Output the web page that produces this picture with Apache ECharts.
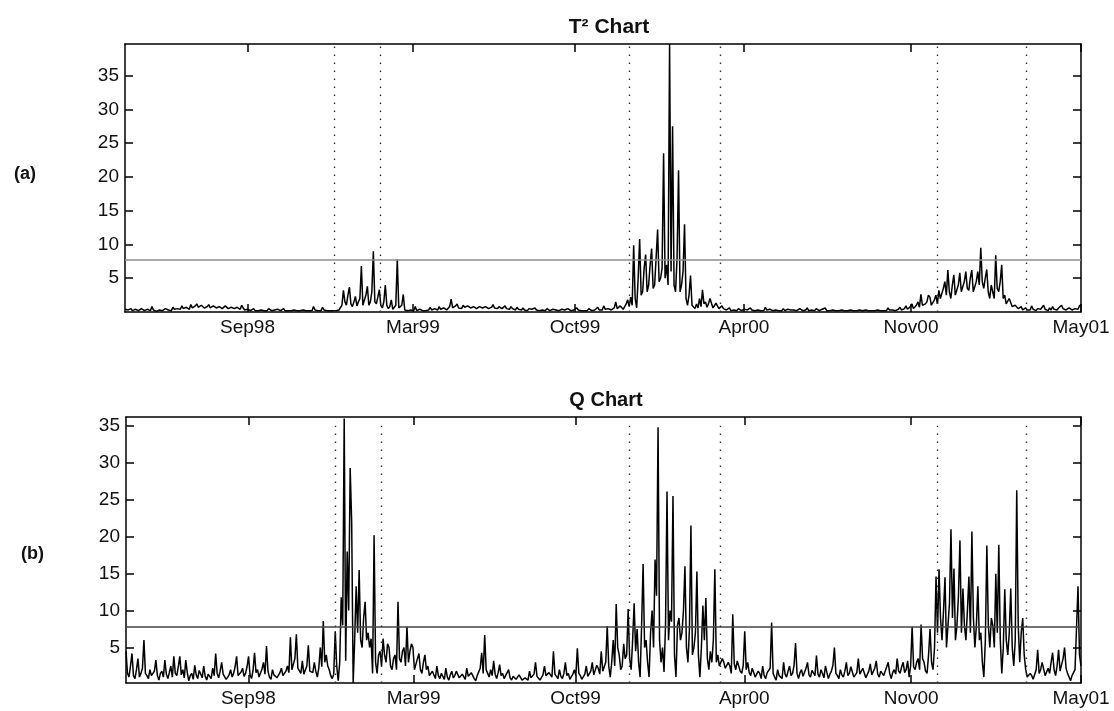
<!DOCTYPE html>
<html>
<head>
<meta charset="utf-8">
<script src="https://cdn.jsdelivr.net/npm/echarts@6/dist/echarts.min.js"></script>
<style>
html,body{margin:0;padding:0;background:#fff;}
#chart{width:1114px;height:711px;}
</style>
</head>
<body>
<div id="chart"></div>
<script>
// x tick labels and the sample index where each falls
const tickLabels = ['Sep98','Mar99','Oct99','Apr00','Nov00','May01'];
const tickIndex = [81.9, 192.5, 300.8, 413.7, 525.4, 639];
// event boundaries (dotted lines), sample index
const eventBounds = [140, 170.7, 336.9, 397.7, 542.8, 602.3];
const yTicks = [5, 10, 15, 20, 25, 30, 35];
const t2Limit = 7.7;
const qLimit = 7.8;

const t2Values = [
0.4,0.2,0.3,0.5,0.5,0.2,0.2,0.4,0.4,0.2, 0.3,0.5,0.5,0.2,0.3,0.4,0.4,0.2,0.8,0.3,
0.3,0.1,0.2,0.3,0.4,0.2,0.3,0.5,0.5,0.3, 0.4,0.2,0.7,0.4,0.3,0.5,0.6,0.4,0.9,0.5,
0.5,0.7,0.8,0.4,1.1,0.6,0.6,0.9,1.2,0.7, 0.8,1.0,1.0,0.6,0.5,0.8,1.1,0.6,0.7,0.9,
0.9,0.6,0.5,0.8,0.8,0.5,0.6,0.9,0.9,0.5, 0.4,0.7,0.8,0.5,0.5,0.7,0.7,0.4,1.0,0.6,
0.3,0.2,0.4,0.3,0.2,0.3,0.5,0.2,0.3,0.2, 0.2,0.3,0.4,0.2,0.3,0.2,0.5,0.3,0.2,0.2,
0.3,0.2,0.4,0.2,0.2,0.3,0.5,0.2,0.3,0.2, 0.2,0.2,0.2,0.3,0.3,0.2,0.2,0.2,0.2,0.3,
0.3,0.2,0.2,0.2,0.3,0.2,0.8,0.3,0.2,0.2, 0.4,0.2,0.7,0.3,0.3,0.2,0.2,0.2,0.4,0.2,
0.3,0.2,0.2,0.3,0.5,1.0,3.2,1.5,1.0,2.5, 3.7,1.2,0.8,1.5,2.3,0.9,1.5,2.0,6.8,1.0,
1.2,2.5,3.8,1.0,1.5,3.0,9.0,1.5,1.2,2.2, 3.3,1.0,0.6,1.5,4.0,1.0,0.5,0.8,1.8,0.4,
0.3,1.0,7.8,0.6,0.4,1.0,2.6,0.3,0.3,0.2, 0.2,0.3,0.3,0.2,0.8,0.2,0.2,0.4,0.5,0.2,
0.3,0.2,0.4,0.3,0.7,0.3,0.3,0.5,0.5,0.3, 0.8,0.4,0.4,0.6,0.6,0.3,0.3,0.8,1.9,0.6,
0.5,0.9,1.2,0.6,0.7,0.5,1.0,0.7,0.6,0.9, 1.1,0.6,0.5,0.8,0.9,0.5,0.7,0.8,1.0,0.6,
0.6,0.8,0.9,0.5,0.5,0.7,1.1,0.6,0.7,0.5, 0.8,0.6,0.5,0.7,0.9,0.5,0.6,0.4,0.8,0.5,
0.5,0.3,0.7,0.4,0.4,0.3,0.6,0.3,0.3,0.2, 0.5,0.3,0.4,0.2,0.6,0.3,0.3,0.2,0.4,0.3,
0.3,0.2,0.5,0.3,0.2,0.2,0.4,0.2,0.3,0.2, 0.2,0.3,0.4,0.2,0.3,0.2,0.5,0.3,0.2,0.2,
0.3,0.2,0.6,0.3,0.2,0.2,0.4,0.2,0.3,0.2, 0.5,0.3,0.2,0.3,0.3,0.2,0.7,0.3,0.4,0.3,
0.9,0.4,0.3,0.5,0.5,0.3,0.4,0.6,1.5,0.5, 0.6,0.9,1.0,0.4,0.5,1.2,1.8,0.8,2.2,1.0,
9.9,2.0,0.6,5.0,10.8,2.5,3.0,6.5,8.5,3.0, 4.0,7.0,9.4,3.5,4.0,8.0,12.2,4.5,5.0,6.5,
23.5,5.0,7.0,4.0,39.7,6.0,27.5,4.0,3.0,8.0, 21.0,3.0,4.0,6.0,13.0,2.0,1.0,2.5,5.4,1.0,
0.8,0.5,1.2,0.6,2.0,0.8,3.3,1.2,1.5,0.7, 1.2,2.0,1.8,0.6,0.8,1.3,1.2,0.5,0.6,0.9,
0.5,0.3,0.3,0.5,0.6,0.2,0.4,0.3,0.3,0.2, 0.5,0.3,0.2,0.3,0.4,0.2,0.3,0.5,0.6,0.3,
0.3,0.2,0.2,0.3,0.4,0.2,0.3,0.2,0.7,0.3, 0.3,0.4,0.5,0.2,0.2,0.3,0.4,0.2,0.3,0.2,
0.5,0.2,0.3,0.4,0.6,0.3,0.2,0.3,0.4,0.2, 0.3,0.5,0.5,0.2,0.3,0.3,0.6,0.2,0.4,0.3,
0.3,0.2,0.5,0.3,0.2,0.2,0.4,0.3,0.6,0.2, 0.3,0.2,0.2,0.3,0.4,0.2,0.3,0.2,0.2,0.3,
0.4,0.2,0.3,0.2,0.2,0.3,0.5,0.2,0.3,0.2, 0.2,0.3,0.3,0.2,0.2,0.3,0.4,0.2,0.2,0.2,
0.3,0.2,0.2,0.3,0.2,0.2,0.4,0.2,0.3,0.2, 0.6,0.3,0.2,0.3,0.4,0.2,0.3,0.4,0.7,0.3,
0.3,0.5,0.9,0.4,0.5,0.8,1.2,0.5,0.6,1.0, 1.5,0.7,2.6,1.0,0.8,1.2,1.5,2.5,2.2,1.0,
1.0,1.8,2.5,1.2,3.2,2.0,1.8,3.5,4.5,2.5, 6.2,3.0,2.0,4.0,5.5,2.5,2.3,4.0,5.8,3.0,
3.0,4.5,6.0,3.5,3.2,5.0,6.2,3.0,3.0,4.5, 6.0,4.0,9.5,4.5,3.5,5.0,6.3,3.0,2.0,4.0,
4.0,2.0,8.4,3.5,3.0,4.5,7.0,2.0,2.5,1.2, 1.0,2.0,2.0,0.8,0.6,1.0,1.2,0.5,0.4,0.8,
0.3,0.2,0.6,0.3,0.4,0.3,0.9,0.4,0.3,0.2, 0.5,0.3,0.4,0.6,1.0,0.4,0.3,0.2,0.6,0.3,
0.8,0.4,0.4,0.3,0.6,0.4,1.0,0.5,0.5,0.3, 0.4,0.6,0.7,0.3,0.3,0.5,0.5,0.4,0.9,1.1
];

const qValues = [
4.5,1.5,1.0,2.5,4.2,1.2,0.8,2.0,3.5,1.0, 1.5,2.2,6.0,1.5,1.2,0.8,2.0,1.2,1.0,1.8,
3.3,1.2,0.6,1.5,1.8,1.0,3.3,1.4,0.8,1.6, 2.5,1.0,3.8,1.5,1.2,2.4,3.8,1.3,2.0,0.9,
3.3,1.6,0.5,1.2,1.5,0.7,2.6,1.3,0.8,1.9, 1.8,0.9,2.5,1.1,0.6,1.4,1.5,0.8,2.2,1.2,
4.2,1.5,0.9,1.8,3.0,1.4,1.2,0.7,0.5,1.3, 2.0,1.0,1.5,2.4,3.8,1.2,1.0,1.7,2.2,1.1,
1.5,2.4,3.8,1.3,0.8,1.9,4.3,1.6,2.0,1.0, 1.2,2.1,3.0,1.4,5.2,1.8,1.0,0.7,2.0,1.3,
1.5,0.9,0.8,1.6,2.2,1.2,1.0,1.8,2.5,1.6, 6.4,2.0,1.8,3.5,6.8,2.2,2.0,1.5,3.2,1.4,
1.5,2.5,5.3,1.8,2.0,1.6,3.0,1.8,1.0,2.2, 5.0,2.4,8.6,3.0,4.0,2.5,2.0,1.2,0.8,1.4,
7.2,2.5,0.5,3.0,11.8,8.0,36.0,3.2,18.0,10.0, 29.3,22.0,0.2,6.0,13.3,7.0,15.5,6.0,5.0,9.0,
11.2,6.0,7.0,5.0,6.2,1.5,20.2,3.0,1.5,4.0, 4.5,2.5,6.2,4.0,3.0,5.5,5.0,2.5,2.0,3.5,
4.0,2.0,11.2,3.5,3.0,4.5,5.0,2.5,7.8,3.0, 4.5,5.5,5.0,2.0,2.0,3.5,4.2,2.0,1.5,3.0,
4.0,2.0,2.5,1.2,1.0,1.8,1.8,0.8,2.5,1.2, 0.8,1.5,1.5,0.7,2.2,1.0,0.6,1.3,1.8,0.9,
1.2,1.8,2.0,0.9,0.8,1.4,1.5,0.7,2.2,1.1, 1.0,1.6,1.8,0.8,0.5,1.2,1.2,2.2,4.3,1.5,
6.7,2.0,1.5,1.0,2.0,1.2,3.2,1.4,0.8,1.6, 2.7,1.2,1.5,0.8,1.0,1.6,2.0,0.9,0.6,1.1,
1.2,0.7,0.8,1.3,1.5,0.6,0.5,0.9,1.0,0.6, 1.8,0.9,0.7,1.4,3.0,1.1,1.2,0.6,0.8,1.3,
2.5,1.2,1.0,1.6,1.8,1.0,4.5,1.4,1.2,0.8, 2.0,1.1,0.8,1.5,3.0,1.2,1.5,0.7,0.6,1.4,
2.0,1.2,4.9,1.5,1.2,0.7,0.5,1.4,2.5,1.1, 1.0,1.8,3.0,1.3,1.5,2.6,2.2,1.4,4.5,1.8,
2.0,3.0,7.9,2.5,1.0,3.0,6.0,2.5,10.9,5.0, 4.0,2.0,2.5,5.5,3.5,4.0,10.2,3.5,2.0,6.0,
11.0,4.5,7.5,3.0,1.0,8.0,16.3,5.0,6.0,3.0, 1.0,7.0,10.0,5.0,16.9,12.0,34.8,6.0,3.0,5.0,
1.7,8.0,26.1,6.0,10.0,8.5,25.5,4.0,1.0,8.0, 9.0,6.0,7.0,10.0,16.0,5.0,3.0,7.5,21.5,4.0,
5.0,7.0,15.3,4.0,1.0,5.0,10.7,6.0,11.7,3.5, 2.0,4.5,3.0,6.0,15.6,3.0,4.0,2.5,2.5,3.5,
3.0,2.2,2.0,3.0,2.5,1.5,9.5,2.8,2.0,3.2, 3.0,1.8,1.5,2.6,7.2,2.0,3.0,1.6,1.2,2.2,
2.0,1.0,1.0,1.8,1.5,0.8,2.5,1.2,0.8,1.6, 1.5,2.2,8.4,1.5,1.0,0.6,2.0,1.2,1.2,0.8,
3.0,1.4,1.0,1.8,2.5,1.2,1.5,2.6,5.6,1.5, 0.8,1.6,2.0,1.1,1.2,2.2,3.0,1.3,1.0,1.9,
2.0,1.2,3.9,1.4,1.0,2.0,1.5,0.9,2.5,1.6, 0.8,1.4,1.8,2.6,5.0,1.5,1.2,0.8,2.0,1.3,
1.0,1.8,3.0,1.2,1.5,2.4,2.2,1.0,0.8,1.6, 3.5,1.4,1.2,2.2,2.0,0.9,1.0,1.8,2.8,1.3,
1.5,2.2,3.2,1.4,1.0,1.8,2.0,1.2,1.2,2.4, 3.0,1.5,0.8,1.6,2.0,1.4,3.5,1.8,1.5,2.4,
3.0,1.6,2.0,3.2,1.0,2.5,7.8,2.4,2.0,3.0, 3.5,2.0,8.1,3.5,3.0,1.8,1.5,4.0,7.5,3.0,
2.0,5.0,14.6,7.0,15.6,9.0,6.0,10.0,14.5,5.0, 8.0,11.0,21.0,9.0,15.7,6.0,8.0,12.0,19.5,7.0,
13.0,8.0,6.0,10.0,14.6,7.0,20.7,9.0,5.0,8.0, 13.3,6.0,7.0,3.0,1.0,6.0,18.8,8.0,5.0,9.0,
8.0,5.0,15.0,7.0,18.9,6.0,1.5,5.0,12.9,6.0, 4.0,7.0,13.0,5.0,2.5,6.0,26.3,8.0,3.0,7.0,
9.0,4.0,2.0,1.0,0.8,1.5,1.2,0.7,0.5,2.0, 4.7,1.5,2.0,3.0,3.2,1.2,1.0,2.2,1.5,3.0,
4.3,2.0,1.2,2.5,4.7,1.8,2.0,3.5,5.0,2.2, 1.5,1.0,0.5,1.2,1.0,2.0,2.0,13.3,4.0,2.5
];

const FONT = 'Liberation Sans, Arial, Helvetica, sans-serif';
const xMax = t2Values.length - 1;

function labelFor(v) {
  for (let k = 0; k < tickIndex.length; k++) {
    if (Math.abs(tickIndex[k] - v) < 0.01) return tickLabels[k];
  }
  return '';
}

function xAxes(gridIndex) {
  const base = {
    type: 'value', gridIndex: gridIndex, min: 0, max: xMax,
    splitLine: {show: false},
    axisLine: {show: true, onZero: false, lineStyle: {color: '#000', width: 1.5}},
    axisTick: {show: true, inside: true, length: 8, customValues: tickIndex, lineStyle: {color: '#000', width: 1.5}}
  };
  return [
    Object.assign({}, base, {position: 'bottom',
      axisLabel: {show: true, customValues: tickIndex, formatter: labelFor, margin: 6,
        color: '#111', fontSize: 19, fontFamily: FONT}}),
    Object.assign({}, base, {position: 'top', axisLabel: {show: false}})
  ];
}

function yAxes(gridIndex, min, max) {
  const base = {
    type: 'value', gridIndex: gridIndex, min: min, max: max,
    splitLine: {show: false},
    axisLine: {show: true, onZero: false, lineStyle: {color: '#000', width: 1.5}},
    axisTick: {show: true, inside: true, length: 8, customValues: yTicks, lineStyle: {color: '#000', width: 1.5}}
  };
  return [
    Object.assign({}, base, {position: 'left',
      axisLabel: {show: true, customValues: yTicks, margin: 6, color: '#111', fontSize: 19, fontFamily: FONT}}),
    Object.assign({}, base, {position: 'right', axisLabel: {show: false}})
  ];
}

function lineSeries(values, xi, yi, limit, limitColor, dotTop) {
  const pts = values.map((v, i) => [i, v]);
  const dotted = eventBounds.map(x => {
    if (dotTop == null) return {xAxis: x};
    return [{coord: [x, 0.2]}, {coord: [x, dotTop]}];
  });
  return [
    {
      type: 'line', xAxisIndex: xi, yAxisIndex: yi, data: pts,
      showSymbol: false, silent: true, animation: false, clip: true,
      lineStyle: {color: '#000', width: 1.5},
      markLine: {
        silent: true, symbol: 'none', animation: false, label: {show: false},
        data: [{yAxis: limit, lineStyle: {color: limitColor, width: 1.6, type: 'solid'}}]
      }
    },
    {
      type: 'line', xAxisIndex: xi, yAxisIndex: yi, data: [],
      silent: true, animation: false,
      markLine: {
        silent: true, symbol: 'none', animation: false, label: {show: false},
        lineStyle: {color: '#333', width: 1.4, type: [1.5, 6.5]},
        data: dotted
      }
    }
  ];
}

const chart = echarts.init(document.getElementById('chart'), null, {renderer: 'canvas'});
chart.setOption({
  backgroundColor: '#fff',
  animation: false,
  title: [
    {text: 'T\u00b2 Chart', left: 604, top: 12, textAlign: 'center',
      textStyle: {fontFamily: FONT, fontWeight: 'bold', fontSize: 21, color: '#111'}},
    {text: 'Q Chart', left: 601, top: 385, textAlign: 'center',
      textStyle: {fontFamily: FONT, fontWeight: 'bold', fontSize: 20, color: '#111'}},
    {text: '(a)', left: 9, top: 160,
      textStyle: {fontFamily: FONT, fontWeight: 'bold', fontSize: 18, color: '#111'}},
    {text: '(b)', left: 16, top: 540,
      textStyle: {fontFamily: FONT, fontWeight: 'bold', fontSize: 18, color: '#111'}}
  ],
  grid: [
    {left: 125, top: 44, width: 956, height: 268, containLabel: false},
    {left: 126, top: 417, width: 955, height: 266, containLabel: false}
  ],
  xAxis: xAxes(0).concat(xAxes(1)),
  yAxis: yAxes(0, 0, 39.7).concat(yAxes(1, 0.2, 36.2)),
  series: lineSeries(t2Values, 0, 0, t2Limit, '#8c8c8c', null)
    .concat(lineSeries(qValues, 2, 2, qLimit, '#444', 35))
});
</script>
</body>
</html>
